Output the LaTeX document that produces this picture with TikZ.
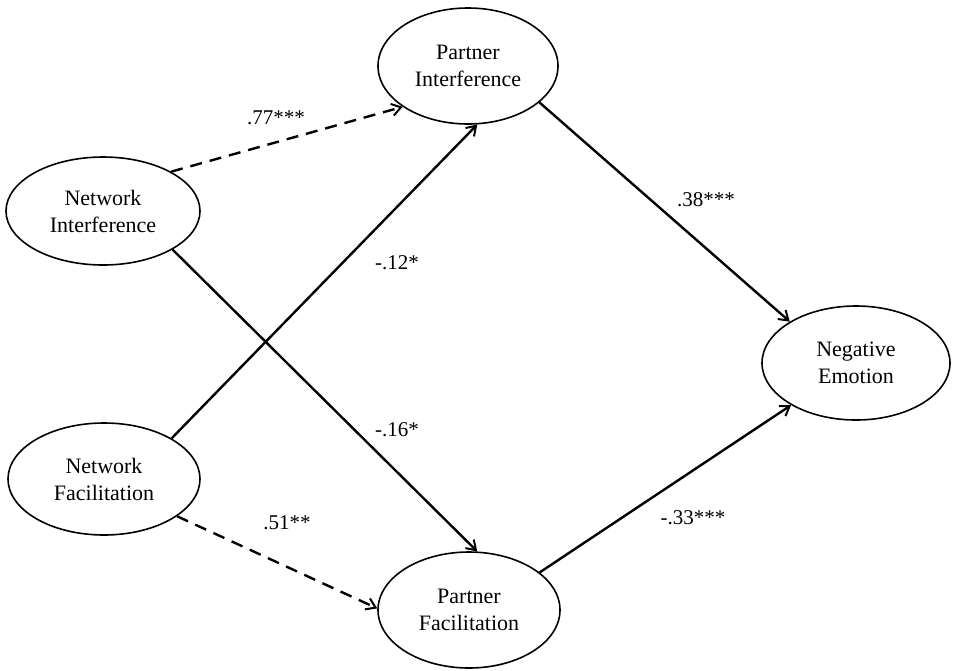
\documentclass[tikz,border=0pt]{standalone}
\usepackage{fontspec}
\setmainfont{Liberation Serif}
\usetikzlibrary{shapes.geometric,arrows.meta}
\begin{document}
\begin{tikzpicture}[x=1pt,y=-1pt,
  var/.style={draw=black,line width=1.6pt,ellipse,inner sep=0pt,align=center,
    font=\fontsize{22}{27}\selectfont},
  path/.style={line width=2.4pt,-{Straight Barb[length=9pt,width=12pt,line width=2pt]}},
  dpath/.style={path,dash pattern=on 12pt off 8pt},
  coef/.style={font=\fontsize{21}{24}\selectfont,inner sep=0pt}]
\useasboundingbox (0,0) rectangle (953,670);
\node[var,minimum width=180pt,minimum height=116pt] (PI) at (468,66) {Partner\\Interference};
\node[var,minimum width=194pt,minimum height=108pt] (NI) at (103,211) {Network\\Interference};
\node[var,minimum width=192pt,minimum height=112pt] (NF) at (104,479) {Network\\Facilitation};
\node[var,minimum width=182pt,minimum height=116pt] (PF) at (469,610) {Partner\\Facilitation};
\node[var,minimum width=188pt,minimum height=114pt] (NE) at (856,363) {Negative\\Emotion};
\draw[dpath] (NI.30) -- (PI.212);
\draw[path] (NF.31) -- (PI.-81);
\draw[path] (NI.-29) -- (PF.82);
\draw[dpath] (NF.-27) -- (PF.179);
\draw[path] (PI.-27) -- (NE.148);
\draw[path] (PF.28) -- (NE.213);
\node[coef] (c1) at (276,118) {.77***};
\node[coef] (c2) at (397,263) {-.12*};
\node[coef] (c3) at (706,200) {.38***};
\node[coef] (c4) at (397,430) {-.16*};
\node[coef] (c5) at (287,523) {.51**};
\node[coef] (c6) at (693,518) {-.33***};
\end{tikzpicture}
\end{document}
